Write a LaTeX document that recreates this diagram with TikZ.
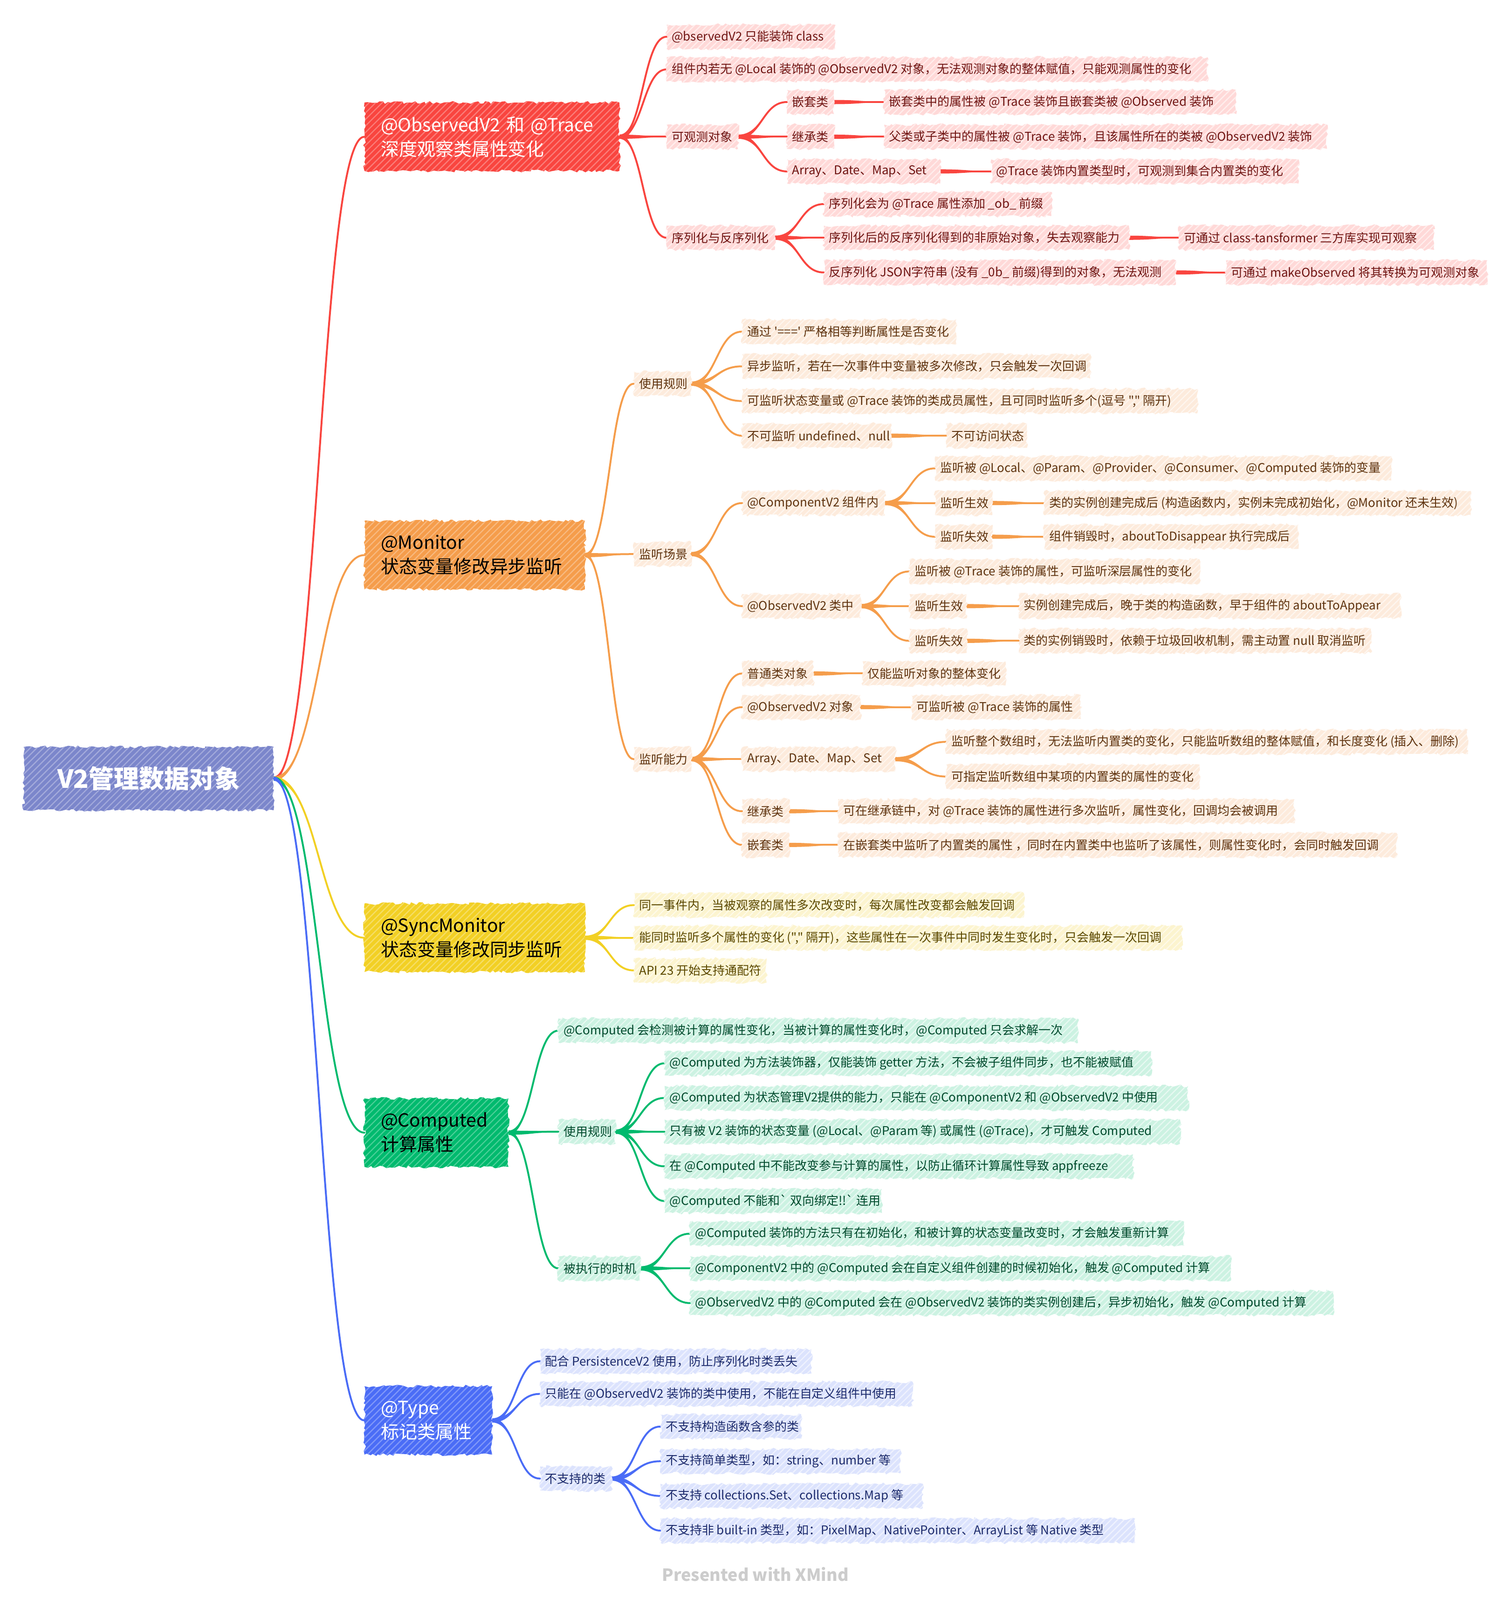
\documentclass[tikz,border=0pt]{standalone}
\usepackage{fontspec}
\newfontfamily\nf{Noto Sans CJK SC}
\usetikzlibrary{calc,decorations.pathmorphing,patterns.meta}
\pgfdeclarelayer{background}
\pgfsetlayers{background,main}

\definecolor{rootC}{HTML}{7B86CB}
\definecolor{redM}{HTML}{F9453F}
\definecolor{redL}{HTML}{FFD9D8}
\definecolor{redT}{HTML}{6E1412}
\definecolor{orgM}{HTML}{F59D4B}
\definecolor{orgL}{HTML}{FDEBDC}
\definecolor{orgT}{HTML}{5E330F}
\definecolor{yelM}{HTML}{F2D024}
\definecolor{yelL}{HTML}{FCF4CF}
\definecolor{yelT}{HTML}{5A4800}
\definecolor{grnM}{HTML}{00BA6E}
\definecolor{grnL}{HTML}{CCF2E2}
\definecolor{grnT}{HTML}{00492C}
\definecolor{bluM}{HTML}{4A6CF6}
\definecolor{bluL}{HTML}{DCE3FD}
\definecolor{bluT}{HTML}{1C2A6B}

\tikzdeclarepattern{
  name=hatch,
  bounding box={(-1pt,-1pt) and (15pt,15pt)},
  tile size={(14pt,14pt)},
  code={\draw[line width=2.4pt] (-1pt,-1pt) -- (15pt,15pt);}
}

\tikzset{
  bw/.code={\pgfmathsetlengthmacro\tw{#1*2.1905pt-22pt}%
    \tikzset{minimum width=#1*2.1905pt,
      execute at begin node={\hbox to \tw\bgroup},
      execute at end node={\hss\egroup}}},
  rough/.style={decorate,decoration={random steps,segment length=6pt,amplitude=3pt}},
  leaf/.style={anchor=west,rough,inner xsep=11pt,inner ysep=0pt,minimum height=52pt,
    font={\nf\fontsize{26}{30}\selectfont}},
  rleaf/.style={leaf,fill=redL,text=redT,postaction={pattern=hatch,pattern color=white!55!redL}},
  oleaf/.style={leaf,fill=orgL,text=orgT,postaction={pattern=hatch,pattern color=white!55!orgL}},
  yleaf/.style={leaf,fill=yelL,text=yelT,postaction={pattern=hatch,pattern color=white!55!yelL}},
  gleaf/.style={leaf,fill=grnL,text=grnT,postaction={pattern=hatch,pattern color=white!55!grnL}},
  bleaf/.style={leaf,fill=bluL,text=bluT,postaction={pattern=hatch,pattern color=white!55!bluL}},
  mainnode/.style={anchor=west,rough,inner xsep=35pt,inner ysep=0pt,minimum height=147pt,
    align=left,font={\nf\fontsize{39}{52}\selectfont}},
  rootnode/.style={anchor=west,rough,inner sep=0pt,minimum width=536.7pt,minimum height=136pt,
    fill=rootC,text=white,font={\nf\bfseries\fontsize{54}{60}\selectfont},
    postaction={pattern=hatch,pattern color=white!30!rootC}},
  conn/.style={line width=4pt,line cap=round},
  credit/.style={font={\nf\bfseries\fontsize{36}{40}\selectfont},text=gray!40}
}

\newcommand\cn[3]{%
  \draw[conn,#1] let \p1=(#2.east),\p2=(#3.west) in
    (\p1) .. controls ({0.5*\x1+0.5*\x2},\y1) and ({0.5*\x1+0.5*\x2},\y2) .. (\p2);
  \fill[#1] let \p1=(#2.east),\p2=(#3.west) in
    (\x1,\y1+4.5pt) .. controls ({0.5*\x1+0.5*\x2},\y1+4.5pt) and ({0.5*\x1+0.5*\x2},\y2+1pt) .. (\x2,\y2+1pt)
    -- (\x2,\y2-1pt) .. controls ({0.5*\x1+0.5*\x2},\y2-1pt) and ({0.5*\x1+0.5*\x2},\y1-4.5pt) .. (\x1,\y1-4.5pt) -- cycle;}

\begin{document}
\begin{tikzpicture}[x=2.1905pt,y=-2.1905pt]
\useasboundingbox (0,0) rectangle (1480,1568);

% root and main topics
\node[rootnode] (root) at (23,763) {V2管理数据对象};
\node[mainnode,fill=redM,text=white,text width=477pt,postaction={pattern=hatch,pattern color=white!30!redM}] (mR) at (357,134) {@ObservedV2 和 @Trace\\深度观察类属性变化};
\node[mainnode,fill=orgM,text=black,text width=403pt,postaction={pattern=hatch,pattern color=white!30!orgM}] (mO) at (357,544) {@Monitor\\状态变量修改异步监听};
\node[mainnode,fill=yelM,text=black,text width=403pt,postaction={pattern=hatch,pattern color=white!30!yelM}] (mY) at (357,919) {@SyncMonitor\\状态变量修改同步监听};
\node[mainnode,fill=grnM,text=black,text width=239pt,postaction={pattern=hatch,pattern color=white!30!grnM}] (mG) at (357,1110) {@Computed\\计算属性};
\node[mainnode,fill=bluM,text=white,text width=204pt,postaction={pattern=hatch,pattern color=white!30!bluM}] (mB) at (357,1392) {@Type\\标记类属性};

% red branch
\node[rleaf,bw=165] (r1) at (653,36) {@bservedV2 只能装饰 class};
\node[rleaf,bw=530] (r2) at (653,68) {组件内若无 @Local 装饰的 @ObservedV2 对象，无法观测对象的整体赋值，只能观测属性的变化};
\node[rleaf,bw=70] (r3) at (653,134) {可观测对象};
\node[rleaf,bw=106] (r4) at (653,233) {序列化与反序列化};
\node[rleaf,bw=46] (r31) at (771,100) {嵌套类};
\node[rleaf,bw=345] (r31a) at (866,100) {嵌套类中的属性被 @Trace 装饰且嵌套类被 @Observed 装饰};
\node[rleaf,bw=46] (r32) at (771,134) {继承类};
\node[rleaf,bw=434] (r32a) at (866,134) {父类或子类中的属性被 @Trace 装饰，且该属性所在的类被 @ObservedV2 装饰};
\node[rleaf,bw=150] (r33) at (771,168) {Array、Date、Map、Set};
\node[rleaf,bw=301] (r33a) at (971,168) {@Trace 装饰内置类型时，可观测到集合内置类的变化};
\node[rleaf,bw=223] (r41) at (807,200) {序列化会为 @Trace 属性添加 \_ob\_ 前缀};
\node[rleaf,bw=299] (r42) at (807,233) {序列化后的反序列化得到的非原始对象，失去观察能力};
\node[rleaf,bw=250] (r42a) at (1155,233) {可通过 class-tansformer 三方库实现可观察};
\node[rleaf,bw=345] (r43) at (807,267) {反序列化 JSON字符串 (没有 \_0b\_ 前缀)得到的对象，无法观测};
\node[rleaf,bw=256] (r43a) at (1201,267) {可通过 makeObserved 将其转换为可观测对象};

% orange branch
\node[oleaf,bw=56] (o1) at (621,376) {使用规则};
\node[oleaf,bw=56] (o2) at (621,543) {监听场景};
\node[oleaf,bw=56] (o3) at (621,744) {监听能力};
\node[oleaf,bw=210] (o11) at (727,325) {通过 '===' 严格相等判断属性是否变化};
\node[oleaf,bw=341] (o12) at (727,359) {异步监听，若在一次事件中变量被多次修改，只会触发一次回调};
\node[oleaf,bw=446] (o13) at (727,393) {可监听状态变量或 @Trace 装饰的类成员属性，且可同时监听多个(逗号 "," 隔开)};
\node[oleaf,bw=146] (o14) at (727,427) {不可监听 undefined、null};
\node[oleaf,bw=79] (o14a) at (927,427) {不可访问状态};
\node[oleaf,bw=140] (o21) at (727,493) {@ComponentV2 组件内};
\node[oleaf,bw=447] (o211) at (916,459) {监听被 @Local、@Param、@Provider、@Consumer、@Computed 装饰的变量};
\node[oleaf,bw=56] (o212) at (916,493) {监听生效};
\node[oleaf,bw=418] (o212a) at (1023,493) {类的实例创建完成后 (构造函数内，实例未完成初始化，@Monitor 还未生效)};
\node[oleaf,bw=56] (o213) at (916,526) {监听失效};
\node[oleaf,bw=249] (o213a) at (1023,526) {组件销毁时，aboutToDisappear 执行完成后};
\node[oleaf,bw=116] (o22) at (727,594) {@ObservedV2 类中};
\node[oleaf,bw=284] (o221) at (891,560) {监听被 @Trace 装饰的属性，可监听深层属性的变化};
\node[oleaf,bw=56] (o222) at (891,594) {监听生效};
\node[oleaf,bw=374] (o222a) at (998,594) {实例创建完成后，晚于类的构造函数，早于组件的 aboutToAppear};
\node[oleaf,bw=56] (o223) at (891,628) {监听失效};
\node[oleaf,bw=345] (o223a) at (998,628) {类的实例销毁时，依赖于垃圾回收机制，需主动置 null 取消监听};
\node[oleaf,bw=70] (o31) at (727,660) {普通类对象};
\node[oleaf,bw=140] (o31a) at (845,660) {仅能监听对象的整体变化};
\node[oleaf,bw=116] (o32) at (727,693) {@ObservedV2 对象};
\node[oleaf,bw=166] (o32a) at (893,693) {可监听被 @Trace 装饰的属性};
\node[oleaf,bw=150] (o33) at (727,744) {Array、Date、Map、Set};
\node[oleaf,bw=511] (o331) at (927,727) {监听整个数组时，无法监听内置类的变化，只能监听数组的整体赋值，和长度变化 (插入、删除)};
\node[oleaf,bw=248] (o332) at (927,761) {可指定监听数组中某项的内置类的属性的变化};
\node[oleaf,bw=46] (o34) at (727,795) {继承类};
\node[oleaf,bw=447] (o34a) at (821,795) {可在继承链中，对 @Trace 装饰的属性进行多次监听，属性变化，回调均会被调用};
\node[oleaf,bw=46] (o35) at (727,828) {嵌套类};
\node[oleaf,bw=547] (o35a) at (821,828) {在嵌套类中监听了内置类的属性 ，同时在内置类中也监听了该属性，则属性变化时，会同时触发回调};

% yellow branch
\node[yleaf,bw=382] (y1) at (621,887) {同一事件内，当被观察的属性多次改变时，每次属性改变都会触发回调};
\node[yleaf,bw=537] (y2) at (621,919) {能同时监听多个属性的变化 ("," 隔开)，这些属性在一次事件中同时发生变化时，只会触发一次回调};
\node[yleaf,bw=130] (y3) at (621,951) {API 23 开始支持通配符};

% green branch
\node[gleaf,bw=509] (g1) at (547,1010) {@Computed 会检测被计算的属性变化，当被计算的属性变化时，@Computed 只会求解一次};
\node[gleaf,bw=56] (g2) at (547,1109) {使用规则};
\node[gleaf,bw=477] (g21) at (651,1042) {@Computed 为方法装饰器，仅能装饰 getter 方法，不会被子组件同步，也不能被赋值};
\node[gleaf,bw=513] (g22) at (651,1076) {@Computed 为状态管理V2提供的能力，只能在 @ComponentV2 和 @ObservedV2 中使用};
\node[gleaf,bw=505] (g23) at (651,1109) {只有被 V2 装饰的状态变量 (@Local、@Param 等) 或属性 (@Trace)，才可触发 Computed};
\node[gleaf,bw=459] (g24) at (651,1143) {在 @Computed 中不能改变参与计算的属性，以防止循环计算属性导致 appfreeze};
\node[gleaf,bw=213] (g25) at (651,1177) {@Computed 不能和` 双向绑定!!` 连用};
\node[gleaf,bw=80] (g3) at (547,1243) {被执行的时机};
\node[gleaf,bw=484] (g31) at (676,1209) {@Computed 装饰的方法只有在初始化，和被计算的状态变量改变时，才会触发重新计算};
\node[gleaf,bw=530] (g32) at (676,1243) {@ComponentV2 中的 @Computed 会在自定义组件创建的时候初始化，触发 @Computed 计算};
\node[gleaf,bw=630] (g33) at (676,1277) {@ObservedV2 中的 @Computed 会在 @ObservedV2 装饰的类实例创建后，异步初始化，触发 @Computed 计算};

% blue branch
\node[bleaf,bw=266] (b1) at (529,1334) {配合 PersistenceV2 使用，防止序列化时类丢失};
\node[bleaf,bw=365] (b2) at (529,1366) {只能在 @ObservedV2 装饰的类中使用，不能在自定义组件中使用};
\node[bleaf,bw=70] (b3) at (529,1449) {不支持的类};
\node[bleaf,bw=138] (b31) at (647,1398) {不支持构造函数含参的类};
\node[bleaf,bw=235] (b32) at (647,1432) {不支持简单类型，如：string、number 等};
\node[bleaf,bw=257] (b33) at (647,1466) {不支持 collections.Set、collections.Map 等};
\node[bleaf,bw=465] (b34) at (647,1500) {不支持非 built-in 类型，如：PixelMap、NativePointer、ArrayList 等 Native 类型};

\node[credit] (cr) at (740,1543) {Presented with XMind};

\begin{pgfonlayer}{background}
\cn{redM}{root}{mR} \cn{orgM}{root}{mO} \cn{yelM}{root}{mY} \cn{grnM}{root}{mG} \cn{bluM}{root}{mB}
% red
\cn{redM}{mR}{r1} \cn{redM}{mR}{r2} \cn{redM}{mR}{r3} \cn{redM}{mR}{r4}
\cn{redM}{r3}{r31} \cn{redM}{r3}{r32} \cn{redM}{r3}{r33}
\cn{redM}{r31}{r31a} \cn{redM}{r32}{r32a} \cn{redM}{r33}{r33a}
\cn{redM}{r4}{r41} \cn{redM}{r4}{r42} \cn{redM}{r4}{r43}
\cn{redM}{r42}{r42a} \cn{redM}{r43}{r43a}
% orange
\cn{orgM}{mO}{o1} \cn{orgM}{mO}{o2} \cn{orgM}{mO}{o3}
\cn{orgM}{o1}{o11} \cn{orgM}{o1}{o12} \cn{orgM}{o1}{o13} \cn{orgM}{o1}{o14} \cn{orgM}{o14}{o14a}
\cn{orgM}{o2}{o21} \cn{orgM}{o2}{o22}
\cn{orgM}{o21}{o211} \cn{orgM}{o21}{o212} \cn{orgM}{o21}{o213}
\cn{orgM}{o212}{o212a} \cn{orgM}{o213}{o213a}
\cn{orgM}{o22}{o221} \cn{orgM}{o22}{o222} \cn{orgM}{o22}{o223}
\cn{orgM}{o222}{o222a} \cn{orgM}{o223}{o223a}
\cn{orgM}{o3}{o31} \cn{orgM}{o3}{o32} \cn{orgM}{o3}{o33} \cn{orgM}{o3}{o34} \cn{orgM}{o3}{o35}
\cn{orgM}{o31}{o31a} \cn{orgM}{o32}{o32a} \cn{orgM}{o33}{o331} \cn{orgM}{o33}{o332}
\cn{orgM}{o34}{o34a} \cn{orgM}{o35}{o35a}
% yellow
\cn{yelM}{mY}{y1} \cn{yelM}{mY}{y2} \cn{yelM}{mY}{y3}
% green
\cn{grnM}{mG}{g1} \cn{grnM}{mG}{g2} \cn{grnM}{mG}{g3}
\cn{grnM}{g2}{g21} \cn{grnM}{g2}{g22} \cn{grnM}{g2}{g23} \cn{grnM}{g2}{g24} \cn{grnM}{g2}{g25}
\cn{grnM}{g3}{g31} \cn{grnM}{g3}{g32} \cn{grnM}{g3}{g33}
% blue
\cn{bluM}{mB}{b1} \cn{bluM}{mB}{b2} \cn{bluM}{mB}{b3}
\cn{bluM}{b3}{b31} \cn{bluM}{b3}{b32} \cn{bluM}{b3}{b33} \cn{bluM}{b3}{b34}
\end{pgfonlayer}
\end{tikzpicture}
\end{document}
